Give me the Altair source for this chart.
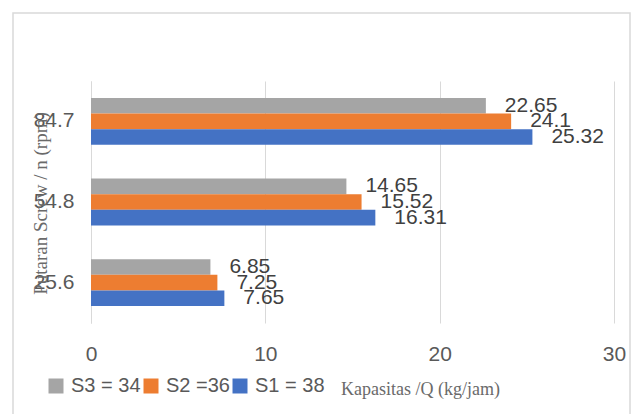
import altair as alt
import pandas as pd

rpm = ["84.7", "54.8", "25.6"]
series = ["S3 = 34", "S2 =36", "S1 = 38"]
colors = ["#A5A5A5", "#ED7D31", "#4472C4"]
s3_vals = [22.65, 14.65, 6.85]
s2_vals = [24.1, 15.52, 7.25]
s1_vals = [25.32, 16.31, 7.65]
x_ticks = [0, 10, 20, 30]

rows = []
for s, vals in zip(series, [s3_vals, s2_vals, s1_vals]):
    for r, v in zip(rpm, vals):
        rows.append({"rpm": r, "series": s, "value": v, "label": f"{v:g}"})
df = pd.DataFrame(rows)

SANS = "Liberation Sans, Arial, sans-serif"
SERIF = "Liberation Serif, Times New Roman, serif"

base = alt.Chart(df).encode(
    y=alt.Y(
        "rpm:N",
        sort=rpm,
        scale=alt.Scale(paddingInner=0.42, paddingOuter=0.21),
        axis=alt.Axis(
            title="Putaran Screw / n (rpm)",
            labelFont=SANS,
            labelFontSize=21,
            labelColor="#595959",
            labelPadding=17,
            ticks=False,
            domainColor="#D9D9D9",
            domainWidth=1,
            grid=False,
            titleFont=SERIF,
            titleFontSize=19,
            titleFontWeight="normal",
            titleColor="#6A6A6A",
            titleAngle=-90,
            titleX=-51,
            titleY=122,
            titleAlign="center",
            titleBaseline="middle",
        ),
    ),
    yOffset=alt.YOffset(
        "series:N", sort=series, scale=alt.Scale(paddingInner=0, paddingOuter=0)
    ),
    x=alt.X(
        "value:Q",
        scale=alt.Scale(domain=[0, 30], nice=False),
        axis=alt.Axis(
            values=x_ticks,
            title="Kapasitas /Q (kg/jam)",
            labelFont=SANS,
            labelFontSize=21,
            labelColor="#595959",
            labelPadding=20,
            labelFlush=False,
            ticks=False,
            domain=False,
            grid=True,
            gridColor="#D9D9D9",
            gridWidth=1,
            titleFont=SERIF,
            titleFontSize=18,
            titleFontWeight="normal",
            titleColor="#6A6A6A",
            titleX=329,
            titleY=66,
            titleAlign="center",
            titleBaseline="middle",
        ),
    ),
)

bars = base.mark_bar().encode(
    color=alt.Color(
        "series:N",
        sort=series,
        scale=alt.Scale(domain=series, range=colors),
        legend=alt.Legend(
            orient="none",
            legendX=-45,
            legendY=295,
            direction="horizontal",
            title=None,
            symbolType="square",
            symbolSize=225,
            symbolStrokeWidth=0,
            labelFont=SANS,
            labelFontSize=20,
            labelColor="#595959",
            labelOffset=5,
            columnPadding=0,
            padding=0,
        ),
    )
)

texts = base.mark_text(
    align="left", baseline="middle", dx=19, fontSize=21, font=SANS, color="#404040"
).encode(text="label:N")

border = alt.Chart(alt.Data(values=[{"a": 1}])).mark_rect(
    fillOpacity=0, stroke="#D9D9D9", strokeWidth=1.5
).encode(
    x=alt.value(-78), x2=alt.value(539), y=alt.value(-68), y2=alt.value(350)
)

chart = alt.layer(border, bars, texts).properties(
    width=523,
    height=242,
    padding={"left": 91, "top": 81, "right": 21, "bottom": 91},
    autosize=alt.AutoSizeParams(type="none"),
    background="white",
).configure_view(stroke=None)

chart.save("out.html", embed_options={"renderer": "svg", "actions": False})
